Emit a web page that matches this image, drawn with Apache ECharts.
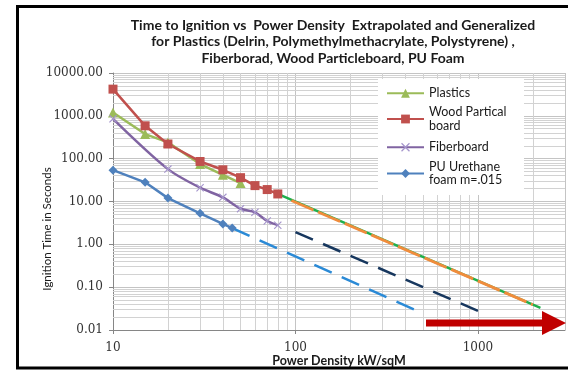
<!DOCTYPE html>
<html>
<head>
<meta charset="utf-8">
<script src="https://cdn.jsdelivr.net/npm/echarts@6/dist/echarts.min.js"></script>
<style>
  html, body { margin: 0; padding: 0; background: #fff; }
  #chart { width: 568px; height: 370px; }
</style>
</head>
<body>
<div id="chart"></div>
<script>
  // measured series (x = kW/sqM, y = seconds)
  var plasticsX = [10, 15, 20, 30, 40, 50];
  var plasticsY = [1200, 375, 240, 75, 42, 27];
  var woodX = [10, 15, 20, 30, 40, 50, 60, 70, 80];
  var woodY = [4200, 585, 220, 86, 55, 36, 23.5, 19, 15];
  var fiberX = [10, 20, 30, 40, 50, 60, 70, 80];
  var fiberY = [850, 57, 21, 12.5, 6.8, 5.6, 3.5, 2.8];
  var foamX = [10, 15, 20, 30, 40, 45];
  var foamY = [54, 28, 12, 5.3, 3.0, 2.4];

  // extrapolated lines (two end points each)
  var extGreenX = [80, 2200];
  var extGreenY = [15, 0.033];
  var extOrangeX = [95, 2000];
  var extOrangeY = [10.6, 0.039];
  var extNavyX = [100, 1000];
  var extNavyY = [1.93, 0.028];
  var extBlueX = [45, 500];
  var extBlueY = [2.4, 0.0244];

  var seriesNames = ['Plastics', 'Wood Partical board', 'Fiberboard', 'PU Urethane foam m=.015'];
  var legendLabels = ['Plastics', 'Wood Partical\nboard', 'Fiberboard', 'PU Urethane\nfoam m=.015'];

  // axis ticks
  var xTickLabels = [10, 100, 1000];
  var xMax = 3000;
  var minorSteps = [2, 3, 4, 5, 6, 7, 8, 9];
  var xDecades = [10, 100, 1000];
  var yDecades = [0.01, 0.1, 1, 10, 100, 1000];

  function pairs(xs, ys) {
    return xs.map(function (x, i) { return [x, ys[i]]; });
  }

  var minorLines = [];
  xDecades.forEach(function (d) {
    minorSteps.forEach(function (m) {
      if (d * m < xMax) minorLines.push({ xAxis: d * m });
    });
  });
  yDecades.forEach(function (d) {
    minorSteps.forEach(function (m) { minorLines.push({ yAxis: d * m }); });
  });

  var font = 'Lato, "Open Sans", sans-serif';
  var numFont = '"DejaVu Serif", serif';
  var crossPath = 'path://M0,1L1,0L5,4L9,0L10,1L6,5L10,9L9,10L5,6L1,10L0,9L4,5Z';

  var legendText = { fontFamily: font, fontSize: 12.5, color: '#1a1a1a', lineHeight: 13.5 };
  var legendTops = [86.5, 98.75, 140.5, 153.25];

  var chart = echarts.init(document.getElementById('chart'));

  var option = {
    animation: false,
    backgroundColor: '#fff',
    title: {
      text: 'Time to Ignition vs  Power Density  Extrapolated and Generalized\nfor Plastics (Delrin, Polymethylmethacrylate, Polystyrene) ,\nFiberborad, Wood Particleboard, PU Foam',
      left: 333,
      top: 17,
      padding: 0,
      textAlign: 'center',
      textStyle: {
        fontFamily: font,
        fontSize: 14,
        fontWeight: 'bold',
        color: '#1a1a1a',
        lineHeight: 16.5
      }
    },
    legend: seriesNames.map(function (name, i) {
      var text = Object.assign({}, legendText);
      if (legendLabels[i].indexOf('\n') > -1) {
        text.padding = [13.5, 0, 0, 0];
      }
      return {
        data: [name],
        left: 386,
        top: legendTops[i],
        padding: 0,
        itemWidth: 37,
        itemHeight: 11,
        itemGap: 0,
        selectedMode: false,
        textStyle: text,
        formatter: function () { return legendLabels[i]; }
      };
    }),
    grid: {
      left: 113,
      top: 73,
      bottom: 40,
      right: 3,
      outerBoundsMode: 'none'
    },
    xAxis: {
      type: 'log',
      logBase: 10,
      min: 10,
      max: xMax,
      interval: 1,
      axisLine: { lineStyle: { color: '#868686' } },
      axisTick: { length: 4, lineStyle: { color: '#868686' } },
      axisLabel: {
        margin: 12,
        fontFamily: numFont,
        fontSize: 12,
        color: '#333',
        showMaxLabel: false,
        formatter: function (v) {
          return xTickLabels.indexOf(Math.round(v)) > -1 ? String(Math.round(v)) : '';
        }
      },
      splitLine: { show: true, lineStyle: { color: '#c4c4c4' } },
      name: 'Power Density kW/sqM',
      nameLocation: 'middle',
      nameGap: 24,
      nameMoveOverlap: false,
      nameTextStyle: {
        fontFamily: font,
        fontSize: 12.5,
        fontWeight: 'bold',
        color: '#1a1a1a'
      }
    },
    yAxis: {
      type: 'log',
      logBase: 10,
      min: 0.01,
      max: 10000,
      interval: 1,
      axisLine: { show: true, lineStyle: { color: '#868686' } },
      axisTick: { show: true, length: 4, lineStyle: { color: '#868686' } },
      axisLabel: {
        margin: 10,
        fontFamily: numFont,
        fontSize: 12,
        color: '#333',
        formatter: function (v) { return Number(v).toFixed(2); }
      },
      splitLine: { show: true, lineStyle: { color: '#c4c4c4' } }
    },
    graphic: [
      {
        type: 'rect',
        z: 3,
        shape: { x: 378, y: 79, width: 146, height: 116 },
        style: { fill: '#fff' }
      },
      {
        type: 'text',
        z: 5,
        x: 47,
        y: 229,
        rotation: Math.PI / 2,
        style: {
          text: 'Ignition Time in Seconds',
          fontFamily: font,
          fontSize: 11.5,
          fill: '#1a1a1a',
          align: 'center',
          verticalAlign: 'middle'
        }
      },
      {
        type: 'polygon',
        z: 50,
        shape: {
          points: [[426, 319.5], [542, 319.5], [542, 311], [566, 323], [542, 335], [542, 326.5], [426, 326.5]]
        },
        style: { fill: '#c00000' }
      },
      {
        type: 'rect',
        z: 100,
        shape: { x: 17.5, y: 6.5, width: 600, height: 361.5 },
        style: { fill: 'none', stroke: '#000', lineWidth: 3 }
      }
    ],
    series: [
      {
        name: 'minor-grid',
        type: 'line',
        data: [],
        z: 1,
        silent: true,
        markLine: {
          z: 1,
          silent: true,
          symbol: ['none', 'none'],
          label: { show: false },
          lineStyle: { color: '#d2d2d2', width: 1, type: 'solid' },
          emphasis: { disabled: true },
          data: minorLines
        }
      },
      {
        name: 'ext-green',
        type: 'line',
        data: pairs(extGreenX, extGreenY),
        showSymbol: false,
        lineStyle: { color: '#1fb04c', width: 2.5 },
        z: 2
      },
      {
        name: 'ext-orange',
        type: 'line',
        data: pairs(extOrangeX, extOrangeY),
        showSymbol: false,
        lineStyle: { color: '#f08c3c', width: 2.8, type: [24, 5] },
        z: 2
      },
      {
        name: 'ext-navy',
        type: 'line',
        data: pairs(extNavyX, extNavyY),
        showSymbol: false,
        lineStyle: { color: '#17375e', width: 2.5, type: [19, 11] },
        z: 2
      },
      {
        name: 'ext-blue',
        type: 'line',
        data: pairs(extBlueX, extBlueY),
        showSymbol: false,
        lineStyle: { color: '#2b8ad6', width: 2.5, type: [19, 11] },
        z: 2
      },
      {
        name: seriesNames[0],
        type: 'line',
        data: pairs(plasticsX, plasticsY),
        symbol: 'triangle',
        symbolSize: 10,
        lineStyle: { color: '#9bbb59', width: 2.5 },
        itemStyle: { color: '#9bbb59' },
        z: 3
      },
      {
        name: seriesNames[1],
        type: 'line',
        data: pairs(woodX, woodY),
        symbol: 'rect',
        symbolSize: 9,
        lineStyle: { color: '#c0504d', width: 2.5 },
        itemStyle: { color: '#c0504d' },
        z: 3
      },
      {
        name: seriesNames[2],
        type: 'line',
        data: pairs(fiberX, fiberY),
        smooth: 0.3,
        symbol: crossPath,
        symbolSize: 8,
        lineStyle: { color: '#8064a2', width: 2.5 },
        itemStyle: { color: '#a595cc' },
        z: 3
      },
      {
        name: seriesNames[3],
        type: 'line',
        data: pairs(foamX, foamY),
        symbol: 'diamond',
        symbolSize: 9,
        lineStyle: { color: '#4f81bd', width: 2.5 },
        itemStyle: { color: '#4f81bd' },
        z: 3
      }
    ]
  };

  chart.setOption(option);
</script>
</body>
</html>
